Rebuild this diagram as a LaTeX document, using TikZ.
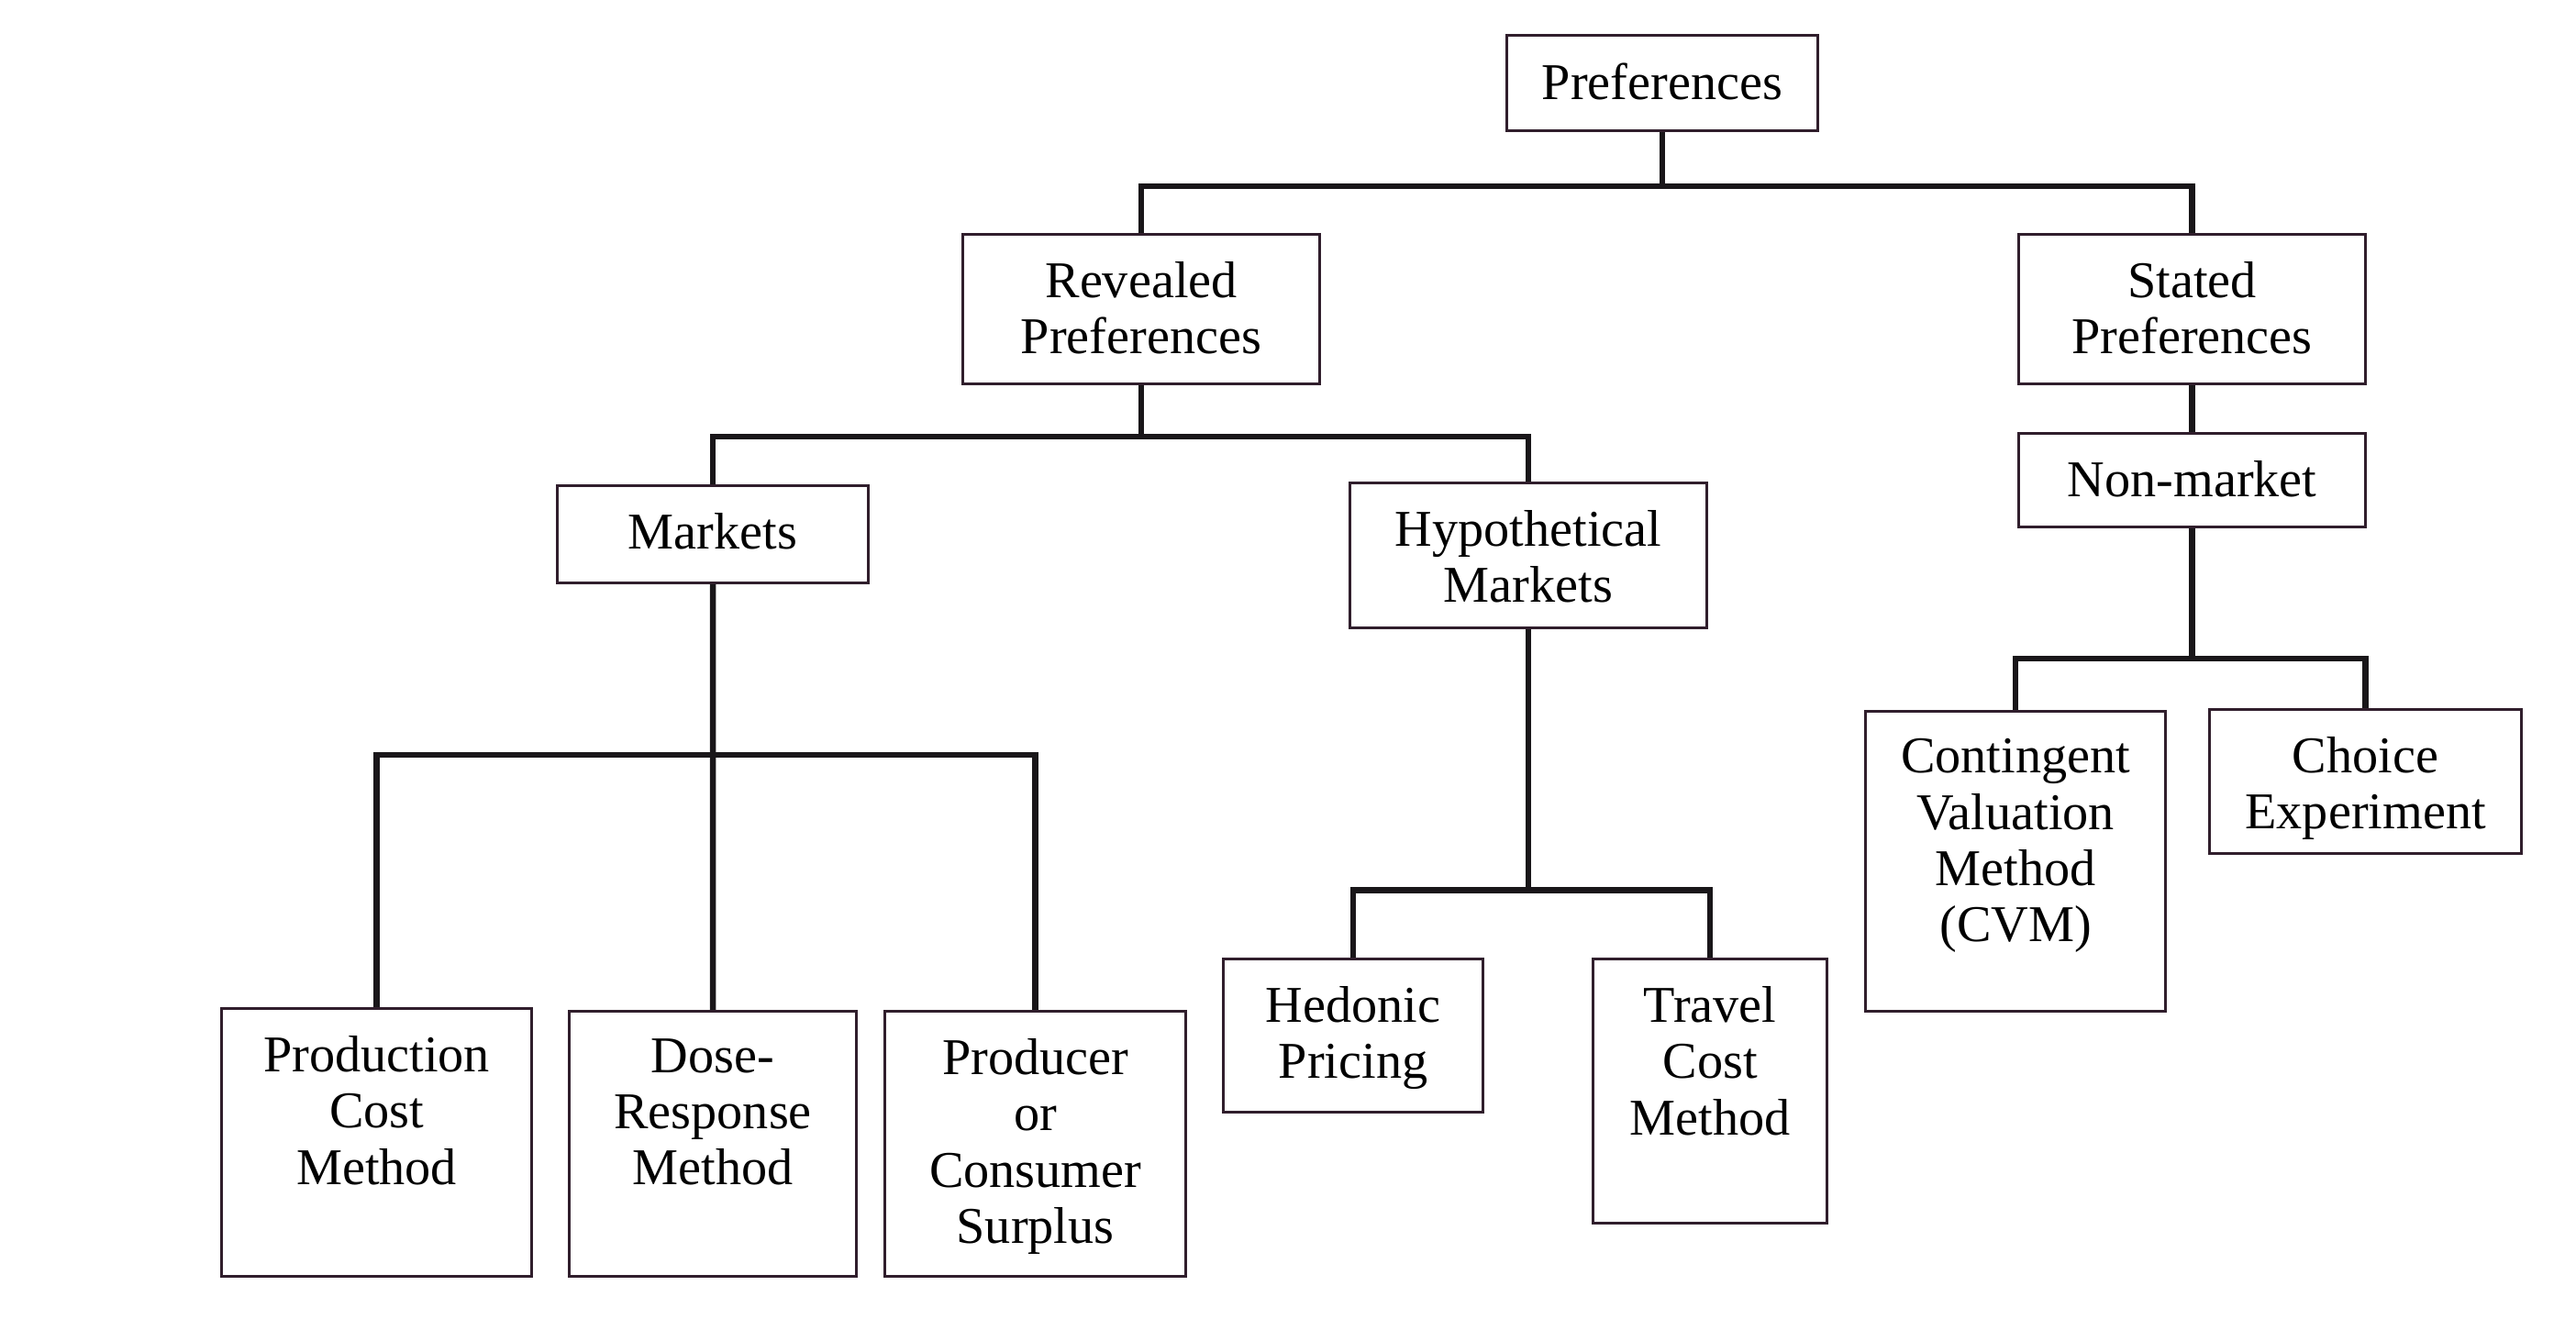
\documentclass[tikz,border=0pt]{standalone}
\usepackage{fontspec}
\setmainfont{Liberation Serif}
\usepackage{xcolor}
\usetikzlibrary{positioning,calc}
\definecolor{boxline}{RGB}{48,30,44}
\definecolor{linkline}{RGB}{25,22,25}

\begin{document}
\begin{tikzpicture}[line join=miter,
            box node/.style={draw=boxline,line width=0.9pt,inner sep=0pt,anchor=north west},
            box text/.style={anchor=north,inner sep=0pt,yshift=-0.31cm,align=center,
              font=\fontsize{16}{17.4}\selectfont},
            link/.style={draw=linkline,line width=1.9pt}]

            \useasboundingbox (0,0) rectangle (28.08,-14.50);

            % top
            \node[box node, minimum width=3.39cm, minimum height=1.04cm,
              label={[box text]north:Preferences}] (pref) at (16.41,-0.37) {};
            \node[box node, minimum width=3.89cm, minimum height=1.63cm,
              label={[box text]north:{Revealed\\Preferences}}] (rev) at (10.48,-2.54) {};
            \node[box node, minimum width=3.78cm, minimum height=1.63cm,
              label={[box text]north:{Stated\\Preferences}}] (stated) at (21.99,-2.54) {};
            \node[box node, minimum width=3.78cm, minimum height=1.02cm,
              label={[box text]north:Non-market}] (nonmkt) at (21.99,-4.71) {};

            % middle
            \node[box node, minimum width=3.39cm, minimum height=1.06cm,
              label={[box text]north:Markets}] (mkts) at (6.06,-5.28) {};
            \node[box node, minimum width=3.89cm, minimum height=1.58cm,
              label={[box text]north:{Hypothetical\\Markets}}] (hyp) at (14.70,-5.25) {};

            % methods
            \node[box node, minimum width=3.38cm, minimum height=2.92cm,
              label={[box text]north:{Production\\Cost\\Method}}] (prod) at (2.40,-10.98) {};
            \node[box node, minimum width=3.13cm, minimum height=2.89cm,
              label={[box text]north:{Dose-\\Response\\Method}}] (dose) at (6.19,-11.01) {};
            \node[box node, minimum width=3.28cm, minimum height=2.89cm,
              label={[box text]north:{Producer\\or\\Consumer\\Surplus}}] (produ) at (9.63,-11.01) {};
            \node[box node, minimum width=2.83cm, minimum height=1.67cm,
              label={[box text]north:{Hedonic\\Pricing}}] (hed) at (13.32,-10.44) {};
            \node[box node, minimum width=2.55cm, minimum height=2.88cm,
              label={[box text]north:{Travel\\Cost\\Method}}] (trav) at (17.35,-10.44) {};
            \node[box node, minimum width=3.27cm, minimum height=3.27cm,
              label={[box text]north:{Contingent\\Valuation\\Method\\(CVM)}}] (cvm) at (20.32,-7.74) {};
            \node[box node, minimum width=3.40cm, minimum height=1.57cm,
              label={[box text]north:{Choice\\Experiment}}] (choice) at (24.07,-7.72) {};

            % connectors
            \draw[link] (pref.south) -- ++(0,-0.59) coordinate (j1);
            \draw[link] (rev.north) |- (j1) -| (stated.north);
            \draw[link] (rev.south) -- ++(0,-0.56) coordinate (j2);
            \draw[link] (mkts.north) |- (j2) -| (hyp.north);
            \draw[link] (stated.south) -- (nonmkt.north);
            \draw[link] (nonmkt.south) -- ++(0,-1.42) coordinate (j3);
            \draw[link] (cvm.north) |- (j3) -| (choice.north);
            \draw[link] (mkts.south) -- ++(0,-1.86) coordinate (j4) -- (dose.north);
            \draw[link] (prod.north) |- (j4) -| (produ.north);
            \draw[link] (hyp.south) -- ++(0,-2.84) coordinate (j5);
            \draw[link] (hed.north) |- (j5) -| (trav.north);
          \end{tikzpicture}
\end{document}
